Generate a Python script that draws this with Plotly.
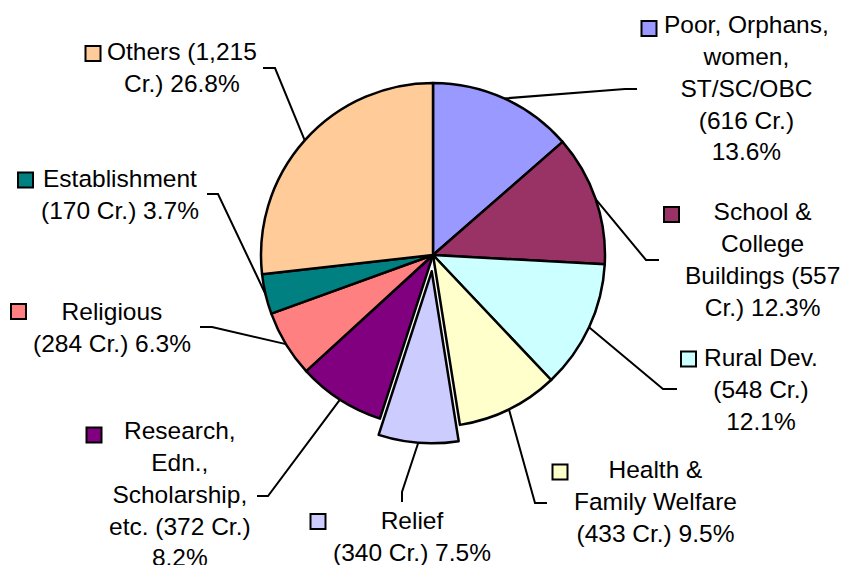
import math
import plotly.graph_objects as go

W, H = 841, 565

# ---- data ----
categories = [
    "Poor, Orphans, women, ST/SC/OBC",
    "School & College Buildings",
    "Rural Dev.",
    "Health & Family Welfare",
    "Relief",
    "Research, Edn., Scholarship, etc.",
    "Religious",
    "Establishment",
    "Others",
]
values_cr = [616, 557, 548, 433, 340, 372, 284, 170, 1215]
label_texts = [
    "Poor, Orphans,<br>women,<br>ST/SC/OBC<br>(616 Cr.)<br>13.6%",
    "School &<br>College<br>Buildings (557<br>Cr.) 12.3%",
    "Rural Dev.<br>(548 Cr.)<br>12.1%",
    "Health &<br>Family Welfare<br>(433 Cr.) 9.5%",
    "Relief<br>(340 Cr.) 7.5%",
    "Research,<br>Edn.,<br>Scholarship,<br>etc. (372 Cr.)<br>8.2%",
    "Religious<br>(284 Cr.) 6.3%",
    "Establishment<br>(170 Cr.) 3.7%",
    "Others (1,215<br>Cr.) 26.8%",
]
colors = ["#9999FF", "#993366", "#CCFFFF", "#FFFFCC", "#CCCCFF",
          "#800080", "#FF8080", "#008080", "#FFCC99"]
pulls = [0, 0, 0, 0, 0.095, 0, 0, 0, 0]

# ---- layout (pixel positions) ----
CX, CY, R = 433, 255, 172
label_centers = [(746, 88), (762, 259), (761, 389), (655, 501.5), (412, 536),
                 (180, 494), (112, 327), (120, 194.5), (182, 67.5)]
key_centers = [(649, 28.5), (671.5, 214.5), (688.5, 359), (560, 472), (318, 521.5),
               (94, 435), (18.5, 311.5), (25.5, 180), (93, 53.5)]
leader_elbows = [(625, 89), (646, 260), (663, 389), (535, 503), (402, 492),
                 (268, 496), (212, 327), (218, 194), (275, 68)]
leader_ends = [(637, 89), (659, 260), (677, 389), (547, 503), (402, 502),
               (257, 496), (200, 327), (207, 194), (263, 68)]
KEY = 15


def px(x):
    return x / W


def py(y):
    return 1 - y / H


maxpull = max(pulls)
half = R * (1 + maxpull)
dom_x = [px(CX - half), px(CX + half)]
dom_y = [py(CY + half), py(CY - half)]

fig = go.Figure(go.Pie(
    labels=categories,
    values=values_cr,
    sort=False,
    direction="clockwise",
    rotation=0,
    pull=pulls,
    marker=dict(colors=colors, line=dict(color="black", width=2.5)),
    textinfo="none",
    hoverinfo="label+value+percent",
    domain=dict(x=dom_x, y=dom_y),
    showlegend=False,
))

shapes = []
annotations = []
total = sum(values_cr)
cum = 0
for i, v in enumerate(values_cr):
    mid = (cum + v / 2) / total * 2 * math.pi
    cum += v
    rr = R * (1 + pulls[i])
    sx = CX + rr * math.sin(mid)
    sy = CY - rr * math.cos(mid)
    ex, ey = leader_elbows[i]
    tx, ty = leader_ends[i]
    shapes.append(dict(type="path", xref="paper", yref="paper",
                       path=f"M {px(sx)} {py(sy)} L {px(ex)} {py(ey)} L {px(tx)} {py(ty)}",
                       line=dict(color="black", width=2)))
    kx, ky = key_centers[i]
    shapes.append(dict(type="rect", xref="paper", yref="paper",
                       x0=px(kx - KEY / 2), x1=px(kx + KEY / 2),
                       y0=py(ky + KEY / 2), y1=py(ky - KEY / 2),
                       fillcolor=colors[i], line=dict(color="black", width=2)))
    lx, ly = label_centers[i]
    annotations.append(dict(x=px(lx), y=py(ly), xref="paper", yref="paper",
                            text=label_texts[i], showarrow=False,
                            xanchor="center", yanchor="middle", align="center",
                            font=dict(size=24.5, color="black",
                                      family="Liberation Sans, Arial, sans-serif")))

fig.update_layout(
    width=W, height=H,
    margin=dict(l=0, r=0, t=0, b=0),
    paper_bgcolor="white", plot_bgcolor="white",
    shapes=shapes, annotations=annotations,
    showlegend=False,
)

fig.write_html(
    "out.html",
    config={"displayModeBar": False},
    post_script="document.body.style.margin='0';document.body.style.overflow='hidden';",
)
